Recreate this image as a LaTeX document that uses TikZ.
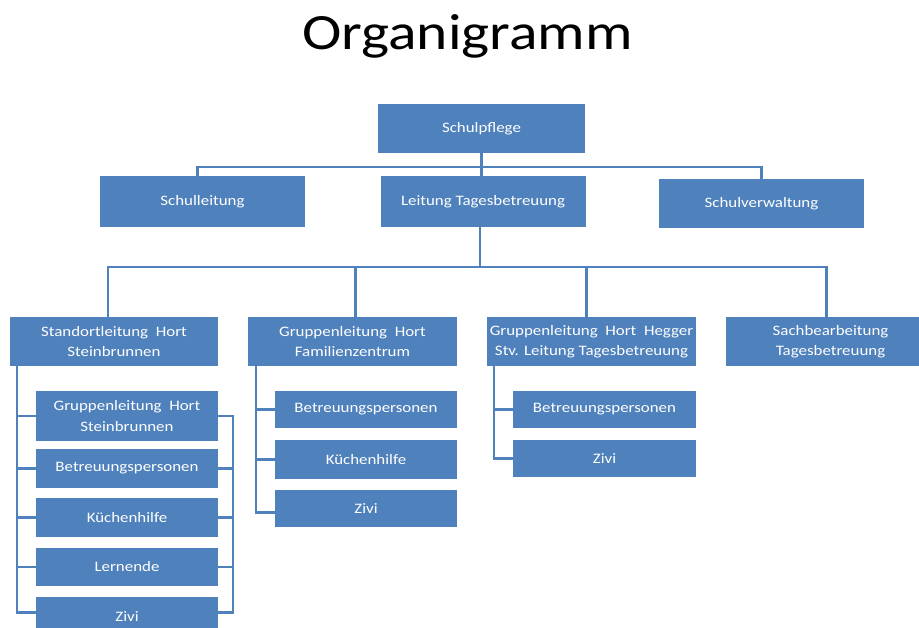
\documentclass[tikz,border=0pt]{standalone}
\usepackage{fontspec}
\setmainfont{Carlito}[FakeStretch=1.17]
\definecolor{obl}{HTML}{4F81BD}
\tikzset{
  box/.style={fill=obl, text=white, inner sep=0pt, align=center,
    font=\fontsize{14.5}{20.5}\selectfont},
  wh/.style 2 args={minimum width=#1bp, minimum height=#2bp},
  conn/.style={draw=obl, line width=2.6bp}
}
\begin{document}
\begin{tikzpicture}[x=1bp,y=-1bp]
\useasboundingbox (0,0) rectangle (919,628);
\node[anchor=base, font=\fontsize{51}{51}\selectfont] (title) at (467.5,50) {Organigramm};
% level 1-2
\node[box, wh={207}{49}] (sp) at (481.5,128.5) {Schulpflege};
\node[box, wh={205}{51}] (sl) at (202.5,201.5) {Schulleitung};
\node[box, wh={205}{51}] (ltb) at (483,201.5) {Leitung Tagesbetreuung};
\node[box, wh={205}{49}] (sv) at (761.5,203.5) {Schulverwaltung};
% level 3
\node[box, wh={208}{49}] (sh) at (114,341.5) {Standortleitung\ \ Hort\\Steinbrunnen};
\node[box, wh={209}{49}] (fz) at (352.5,341.5) {Gruppenleitung\ \ Hort\\Familienzentrum};
\node[box, wh={209}{49}] (hg) at (591.5,341.5) {Gruppenleitung\ \ Hort\ \ Hegger\\Stv. Leitung Tagesbetreuung};
\node[box, wh={209}{49}] (sb) at (830.5,341.5) {Sachbearbeitung\\Tagesbetreuung};
% left column
\node[box, wh={182}{50}] (g1) at (127,416) {Gruppenleitung\ \ Hort\\Steinbrunnen};
\node[box, wh={182}{39}] (b1) at (127,468.5) {Betreuungspersonen};
\node[box, wh={182}{39}] (k1) at (127,517.5) {Küchenhilfe};
\node[box, wh={182}{38}] (l1) at (127,567) {Lernende};
\node[box, wh={182}{39}] (z1) at (127,616.5) {Zivi};
% middle column
\node[box, wh={182}{37}] (b2) at (366,409.5) {Betreuungspersonen};
\node[box, wh={182}{39}] (k2) at (366,459.5) {Küchenhilfe};
\node[box, wh={182}{37}] (z2) at (366,508.5) {Zivi};
% right column
\node[box, wh={183}{37}] (b3) at (604.5,409.5) {Betreuungspersonen};
\node[box, wh={183}{37}] (z3) at (604.5,458.5) {Zivi};
% connectors
\coordinate (bus1) at (0,167);
\coordinate (bus2) at (0,267);
\draw[conn] (sp.south) -- (sp.south |- ltb.north);
\draw[conn] ([xshift=-5bp]sl.north) -- ([xshift=-5bp]sl.north |- bus1) -- (sv.north |- bus1) -- (sv.north);
\draw[conn] ([xshift=-3bp]ltb.south) -- ([xshift=-3bp]ltb.south |- bus2);
\draw[conn] ([xshift=-6bp]sh.north) -- ([xshift=-6bp]sh.north |- bus2) -- ([xshift=-4bp]sb.north |- bus2) -- ([xshift=-4bp]sb.north);
\draw[conn] ([xshift=3bp]fz.north) -- ([xshift=3bp]fz.north |- bus2);
\draw[conn] ([xshift=-5bp]hg.north) -- ([xshift=-5bp]hg.north |- bus2);
% left spine and bracket
\coordinate (ls) at (17,0);
\coordinate (rs) at (233,0);
\draw[conn] (sh.south -| ls) -- ([yshift=4bp]z1.west -| ls) -- ([yshift=4bp]z1.west);
\foreach \n in {g1,b1,k1,l1} \draw[conn] (ls |- \n.west) -- (\n.west);
\draw[conn] (g1.east) -- (g1.east -| rs) -- ([yshift=4bp]z1.east -| rs) -- ([yshift=4bp]z1.east);
\foreach \n in {b1,k1,l1} \draw[conn] (rs |- \n.east) -- (\n.east);
% middle spine
\coordinate (ms) at (256,0);
\draw[conn] (fz.south -| ms) -- ([yshift=-4bp]z2.west -| ms) -- ([yshift=-4bp]z2.west);
\foreach \n in {b2,k2} \draw[conn] (ms |- \n.west) -- (\n.west);
% right spine
\coordinate (hs) at (494,0);
\draw[conn] (hg.south -| hs) -- (z3.west -| hs) -- (z3.west);
\draw[conn] (hs |- b3.west) -- (b3.west);
\end{tikzpicture}
\end{document}
